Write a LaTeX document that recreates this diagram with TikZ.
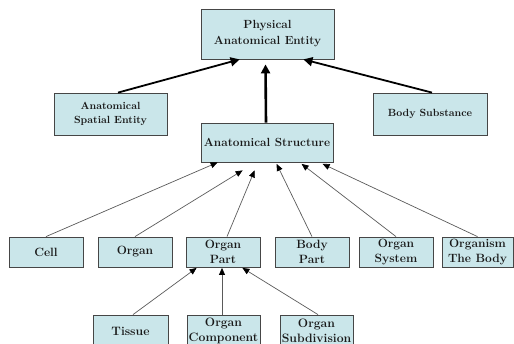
\documentclass[tikz,border=0pt]{standalone}
\usetikzlibrary{arrows.meta,calc}
\definecolor{boxfill}{RGB}{202,230,234}
\definecolor{boxline}{RGB}{70,70,70}
\definecolor{thinline}{RGB}{90,90,90}
\begin{document}
\begin{tikzpicture}[x=1pt,y=-1pt,
  box/.style={draw=boxline,fill=boxfill,line width=0.8pt,inner sep=0pt,align=center,text=black!90},
  topfont/.style={font=\fontsize{11.8}{16}\selectfont\bfseries},
  midfont/.style={font=\fontsize{10.4}{14}\selectfont\bfseries},
  lowfont/.style={font=\fontsize{12}{15}\selectfont\bfseries},
  botfont/.style={font=\fontsize{12.2}{14.5}\selectfont\bfseries},
  thickarrow/.style={line width=1.8pt,-{Triangle[length=9pt,width=9pt]}},
  thinarrow/.style={draw=thinline,line width=0.7pt,-{Triangle[length=7pt,width=6pt,fill=black,color=black]}}]
\useasboundingbox (0,0) rectangle (514,344);
\clip (0,0) rectangle (514,344);
% top
\node[box,topfont,minimum width=133pt,minimum height=50pt] (pae) at (267.5,34) {Physical\\Anatomical Entity};
\node[box,midfont,minimum width=113pt,minimum height=42pt] (ase) at (110.5,114) {Anatomical\\Spatial Entity};
\node[box,midfont,minimum width=114pt,minimum height=42pt] (bs) at (430,114) {Body Substance};
\node[box,topfont,minimum width=132pt,minimum height=39pt] (as) at (267,142.5) {Anatomical Structure};
% bottom row
\node[box,lowfont,minimum width=74pt,minimum height=30pt] (cell) at (46,252) {Cell};
\node[box,lowfont,minimum width=74pt,minimum height=30pt] (organ) at (135,252) {Organ};
\node[box,lowfont,minimum width=74pt,minimum height=30pt] (op) at (223,252) {Organ\\Part};
\node[box,lowfont,minimum width=74pt,minimum height=30pt] (bp) at (312,252) {Body\\Part};
\node[box,lowfont,minimum width=74pt,minimum height=30pt] (os) at (396,252) {Organ\\System};
\node[box,lowfont,minimum width=71pt,minimum height=30pt] (org) at (477.5,252) {Organism\\The Body};
% third row
\node[box,botfont,minimum width=75pt,minimum height=32pt] (tis) at (130.5,331) {Tissue};
\node[box,botfont,minimum width=73pt,minimum height=32pt] (comp) at (223.5,331) {Organ\\Component};
\node[box,botfont,minimum width=73pt,minimum height=32pt] (sub) at (316.5,331) {Organ\\Subdivision};
% top arrows
\draw[thickarrow] ($(ase.north)+(7.5,0)$) -- ($(pae.south west)+(39,0)$);
\draw[thickarrow] ($(bs.north)+(2,0)$) -- ($(pae.south east)+(-31,0)$);
\draw[thickarrow,line width=2.6pt] ($(as.north)+(-1,0)$) -- ($(pae.south)+(-2,5)$);
% arrows to Anatomical Structure
\draw[thinarrow] (cell.north) -- ($(as.south west)+(17,0)$);
\draw[thinarrow] (organ.north) -- ($(as.south west)+(42,8)$);
\draw[thinarrow] ($(op.north)+(4,0)$) -- ($(as.south west)+(54,8)$);
\draw[thinarrow] (bp.north) -- ($(as.south west)+(76,1.5)$);
\draw[thinarrow] (os.north) -- ($(as.south west)+(101,1.5)$);
\draw[thinarrow] (org.north) -- ($(as.south west)+(122,1.5)$);
% arrows to Organ Part
\draw[thinarrow] ($(tis.north)+(2.5,0)$) -- ($(op.south west)+(11,0.5)$);
\draw[thinarrow] ($(comp.north)+(-1.5,0)$) -- ($(op.south)+(-1,0.5)$);
\draw[thinarrow] ($(sub.north)+(1.5,0)$) -- ($(op.south east)+(-18,0.5)$);
\end{tikzpicture}
\end{document}
